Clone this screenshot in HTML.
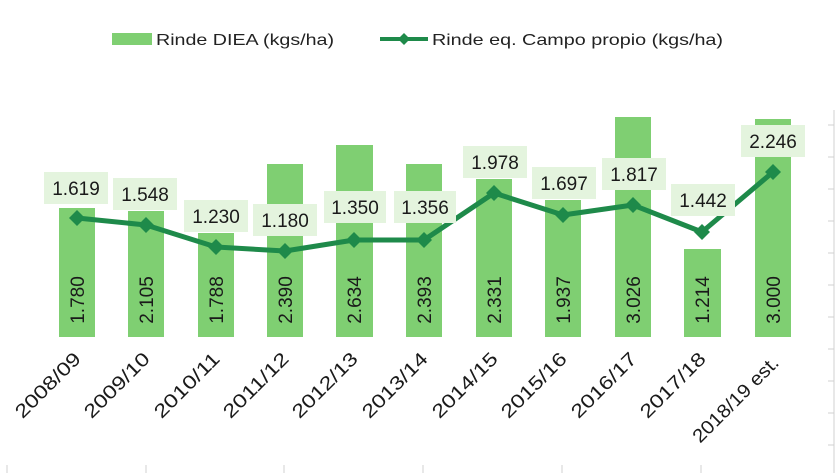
<!DOCTYPE html>
<html><head><meta charset="utf-8"><style>
html,body{margin:0;padding:0;background:#fff;}
svg{display:block;font-family:"Liberation Sans",sans-serif;}
</style></head><body>
<svg width="840" height="473" viewBox="0 0 840 473" xmlns="http://www.w3.org/2000/svg">
<rect width="840" height="473" fill="#fff"/>
<line x1="834" y1="110" x2="834" y2="473" stroke="#d0d0d0" stroke-width="1"/>
<g stroke="#d0d0d0" stroke-width="1">
<line x1="828" y1="125" x2="834" y2="125"/><line x1="828" y1="157" x2="834" y2="157"/>
<line x1="828" y1="189" x2="834" y2="189"/><line x1="828" y1="221" x2="834" y2="221"/>
<line x1="828" y1="253" x2="834" y2="253"/><line x1="828" y1="285" x2="834" y2="285"/>
<line x1="828" y1="317" x2="834" y2="317"/><line x1="828" y1="349" x2="834" y2="349"/>
<line x1="828" y1="381" x2="834" y2="381"/><line x1="828" y1="413" x2="834" y2="413"/>
<line x1="828" y1="445" x2="834" y2="445"/>
<line x1="7" y1="465" x2="7" y2="473"/><line x1="146" y1="465" x2="146" y2="473"/>
<line x1="284" y1="465" x2="284" y2="473"/><line x1="423" y1="465" x2="423" y2="473"/>
<line x1="562" y1="465" x2="562" y2="473"/><line x1="701" y1="465" x2="701" y2="473"/>
</g>
<rect x="112" y="33" width="40" height="12" fill="#7fcf72"/>
<text x="156" y="45" font-size="16" fill="#222" textLength="178" lengthAdjust="spacingAndGlyphs">Rinde DIEA (kgs/ha)</text>
<line x1="380" y1="39" x2="428" y2="39" stroke="#1e8a4a" stroke-width="4"/>
<path d="M404 33 L410 39 L404 45 L398 39Z" fill="#1e8a4a"/>
<text x="432" y="45" font-size="16" fill="#222" textLength="291" lengthAdjust="spacingAndGlyphs">Rinde eq. Campo propio (kgs/ha)</text>
<g fill="#7fcf72">
<rect x="59" y="208" width="36" height="129"/>
<rect x="128" y="211" width="36" height="126"/>
<rect x="198" y="233" width="36" height="104"/>
<rect x="267" y="164" width="36" height="173"/>
<rect x="336" y="145" width="37" height="192"/>
<rect x="406" y="164" width="36" height="173"/>
<rect x="476" y="179" width="36" height="158"/>
<rect x="545" y="200" width="36" height="137"/>
<rect x="615" y="117" width="36" height="220"/>
<rect x="684" y="249" width="37" height="88"/>
<rect x="755" y="119" width="36" height="218"/>
</g>
<g font-size="19" fill="#1a1a1a" text-anchor="middle">
<text transform="translate(84,300) rotate(-90)">1.780</text>
<text transform="translate(153,300) rotate(-90)">2.105</text>
<text transform="translate(223,300) rotate(-90)">1.788</text>
<text transform="translate(292,300) rotate(-90)">2.390</text>
<text transform="translate(361,300) rotate(-90)">2.634</text>
<text transform="translate(431,300) rotate(-90)">2.393</text>
<text transform="translate(501,300) rotate(-90)">2.331</text>
<text transform="translate(570,300) rotate(-90)">1.937</text>
<text transform="translate(640,300) rotate(-90)">3.026</text>
<text transform="translate(709,300) rotate(-90)">1.214</text>
<text transform="translate(780,300) rotate(-90)">3.000</text>
</g>
<polyline points="77,218 146,225 216,247 285,251 354,240 424,240 494,193 563,215 633,205 702,232 773,172" fill="none" stroke="#1e8a4a" stroke-width="5" stroke-linejoin="round"/>
<g fill="#1e8a4a">
<path d="M77 210l8 8-8 8-8-8z"/><path d="M146 217l8 8-8 8-8-8z"/><path d="M216 239l8 8-8 8-8-8z"/>
<path d="M285 243l8 8-8 8-8-8z"/><path d="M354 232l8 8-8 8-8-8z"/><path d="M424 232l8 8-8 8-8-8z"/>
<path d="M494 185l8 8-8 8-8-8z"/><path d="M563 207l8 8-8 8-8-8z"/><path d="M633 197l8 8-8 8-8-8z"/>
<path d="M702 224l8 8-8 8-8-8z"/><path d="M773 164l8 8-8 8-8-8z"/>
</g>
<g fill="#e4f4de">
<rect x="44" y="172" width="64" height="32"/><rect x="113" y="178" width="64" height="32"/>
<rect x="184" y="200" width="64" height="32"/><rect x="253" y="204" width="64" height="32"/>
<rect x="324" y="191" width="62" height="32"/><rect x="394" y="191" width="62" height="32"/>
<rect x="463" y="146" width="64" height="32"/><rect x="532" y="167" width="64" height="32"/>
<rect x="602" y="158" width="64" height="32"/><rect x="671" y="184" width="64" height="32"/>
<rect x="741" y="125" width="64" height="32"/>
</g>
<g font-size="19" fill="#1a1a1a" text-anchor="middle">
<text x="76" y="195">1.619</text><text x="145" y="201">1.548</text>
<text x="216" y="223">1.230</text><text x="285" y="227">1.180</text>
<text x="355" y="214">1.350</text><text x="425" y="214">1.356</text>
<text x="495" y="169">1.978</text><text x="564" y="190">1.697</text>
<text x="634" y="181">1.817</text><text x="703" y="207">1.442</text>
<text x="773" y="148">2.246</text>
</g>
<g font-size="19" fill="#1a1a1a" text-anchor="end" lengthAdjust="spacingAndGlyphs">
<text transform="translate(82,360) rotate(-45)" textLength="84" lengthAdjust="spacingAndGlyphs">2008/09</text>
<text transform="translate(151,360) rotate(-45)" textLength="84" lengthAdjust="spacingAndGlyphs">2009/10</text>
<text transform="translate(221,360) rotate(-45)" textLength="84" lengthAdjust="spacingAndGlyphs">2010/11</text>
<text transform="translate(290,360) rotate(-45)" textLength="84" lengthAdjust="spacingAndGlyphs">2011/12</text>
<text transform="translate(359,360) rotate(-45)" textLength="84" lengthAdjust="spacingAndGlyphs">2012/13</text>
<text transform="translate(429,360) rotate(-45)" textLength="84" lengthAdjust="spacingAndGlyphs">2013/14</text>
<text transform="translate(499,360) rotate(-45)" textLength="84" lengthAdjust="spacingAndGlyphs">2014/15</text>
<text transform="translate(568,360) rotate(-45)" textLength="84" lengthAdjust="spacingAndGlyphs">2015/16</text>
<text transform="translate(638,360) rotate(-45)" textLength="84" lengthAdjust="spacingAndGlyphs">2016/17</text>
<text transform="translate(707,360) rotate(-45)" textLength="84" lengthAdjust="spacingAndGlyphs">2017/18</text>
<text transform="translate(780,364) rotate(-45)" textLength="113" lengthAdjust="spacingAndGlyphs">2018/19 est.</text>
</g>
</svg>
</body></html>
